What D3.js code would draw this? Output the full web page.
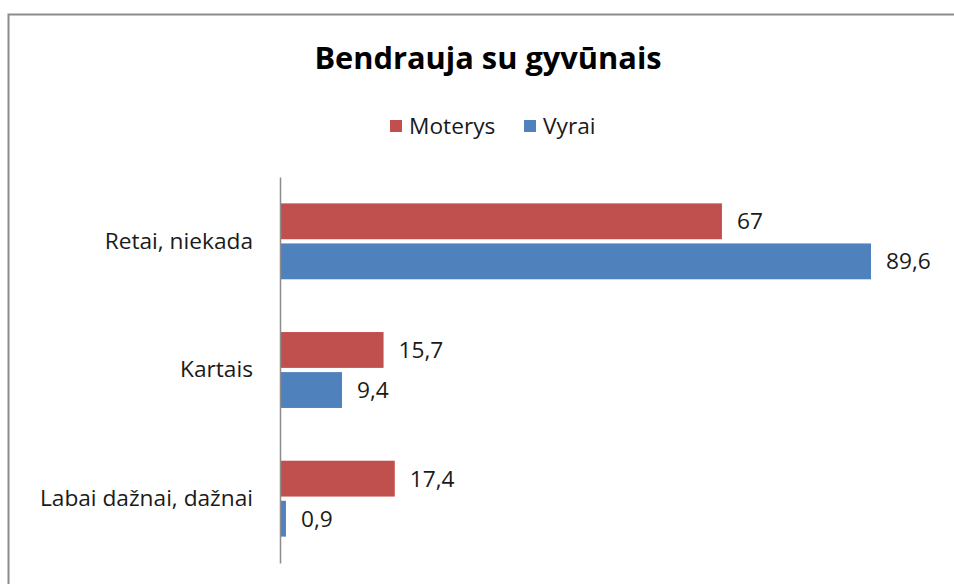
<!DOCTYPE html>
<html><head><meta charset="utf-8">
<script src="https://cdn.jsdelivr.net/npm/d3@7"></script>
<style>body{margin:0;background:#fff}svg{display:block}</style>
</head><body>
<script>
const categories = ["Retai, niekada", "Kartais", "Labai dažnai, dažnai"];
const seriesNames = ["Moterys", "Vyrai"];
const moterys = [67, 15.7, 17.4];
const vyrai = [89.6, 9.4, 0.9];
const colors = ["#C0504D", "#4F81BD"];
const title = "Bendrauja su gyvūnais";

const W = 954, H = 584;
const svg = d3.select("body").append("svg").attr("width", W).attr("height", H);
const font = "'Open Sans', sans-serif";
const fs = 22.7;

svg.append("rect").attr("x", 8.5).attr("y", 14.5).attr("width", 1000).attr("height", 1000)
  .attr("fill", "#fff").attr("stroke", "#8c8c8c").attr("stroke-width", 2);

svg.append("text").attr("x", 488).attr("y", 69).attr("text-anchor", "middle")
  .attr("font-family", font).attr("font-weight", "bold").attr("font-size", 30.8).attr("fill", "#000").text(title);

const x = d3.scaleLinear().domain([0, 89.6]).range([280, 871]);
const y = d3.scaleBand().domain(categories).range([177, 563]).paddingInner(0.41).paddingOuter(0.205);
const sub = d3.scaleBand().domain(seriesNames).range([0, y.bandwidth()]).paddingInner(0.105);

const data = categories.map((c, i) => ({c, vals: [moterys[i], vyrai[i]]}));

const g = svg.append("g");
data.forEach(d => {
  d.vals.forEach((v, j) => {
    const yy = y(d.c) + sub(seriesNames[j]);
    g.append("rect").attr("x", x(0)).attr("y", yy).attr("width", x(v) - x(0)).attr("height", sub.bandwidth())
      .attr("fill", colors[j]);
    g.append("text").attr("x", x(v) + 15).attr("y", yy + sub.bandwidth() / 2).attr("dy", "0.35em")
      .attr("font-family", font).attr("font-size", fs).attr("fill", "#1a1a1a")
      .text(String(v).replace(".", ","));
  });
});

const ax = svg.append("g").attr("transform", `translate(${x(0)},0)`)
  .call(d3.axisLeft(y).tickSize(0).tickPadding(27));
ax.select(".domain").attr("stroke", "#8c8c8c").attr("stroke-width", 1.5);
ax.selectAll("text").attr("font-family", font).attr("font-size", fs).attr("fill", "#1a1a1a");

// legend
const legX = [390, 524];
seriesNames.forEach((s, j) => {
  svg.append("rect").attr("x", legX[j]).attr("y", 120).attr("width", 12).attr("height", 12).attr("fill", colors[j]);
  svg.append("text").attr("x", legX[j] + 19).attr("y", 126).attr("dy", "0.35em")
    .attr("font-family", font).attr("font-size", fs).attr("fill", "#1a1a1a").text(s);
});
</script>
</body></html>
